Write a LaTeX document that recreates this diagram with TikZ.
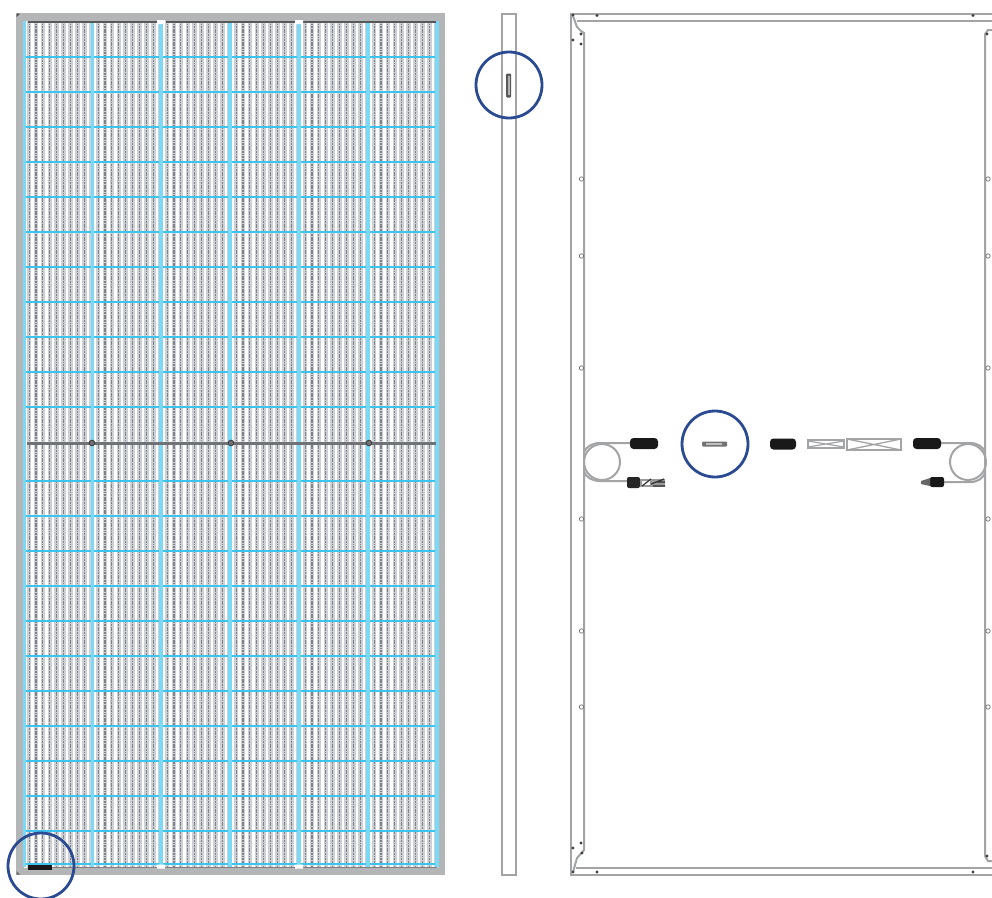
\documentclass[tikz,border=0pt]{standalone}
\definecolor{framegray}{HTML}{B4B5B7}
\definecolor{linegray}{HTML}{A3A4A6}
\definecolor{stripe}{HTML}{CDD0D4}
\definecolor{stripedark}{HTML}{7F8388}
\definecolor{cellblue}{HTML}{3CC3EE}
\definecolor{cellbluel}{HTML}{7CD9F5}
\definecolor{ringblue}{HTML}{2A4B92}
\definecolor{busbar}{HTML}{6F7377}
\tikzset{
  x=1pt,y=-1pt,
  ring/.style={draw=ringblue,line width=2.8pt},
  outline/.style={draw=linegray,line width=2pt},
  cable/.style={draw=linegray,line width=2pt},
  hole/.style={draw=black!55,line width=.7pt,fill=white},
  speck/.style={fill=black!75},
}
\begin{document}
\begin{tikzpicture}
\useasboundingbox (0,0) rectangle (992,897);
\fill[white] (0,0) rectangle (992,897);
% --- front panel ---
\fill[framegray] (16,13) rectangle (445,875);
\fill[black!70] (16.5,13.5) -- (20,13.5) -- (16.5,17) -- cycle;
\fill[black!60] (16.5,874.5) -- (20,874.5) -- (16.5,871) -- cycle;
\fill[white] (24,21) rectangle (437.5,868);
\foreach \i in {0,...,59}{
  \pgfmathsetmacro{\xa}{26.8+\i*6.9}
  \fill[stripe] (\xa,21) rectangle ++(4.6,847);
  \draw[stripedark,line width=1.1pt,dash pattern=on 1.7pt off .9pt] (\xa+2.3,21) -- ++(0,847);
}
\foreach \y in {57,92,127,162,197,232,267,302,337,372,407,481,516,551,586,621,656,691,726,761,796,831,864}
  \draw[cellblue,line width=2.5pt] (24,\y) -- (437,\y);
\foreach \x in {24.5,92.5,161,230,299,368,437}
  \draw[cellbluel,line width=3.2pt] (\x,21) -- (\x,867);
% top and bottom edge details
\draw[black!65,line width=2.4pt] (28,22) -- (157,22) (166,22) -- (296,22) (303,22) -- (436,22);
\fill[white] (157,20) rectangle (165,24) (295,20) rectangle (303,24);
\fill[white] (157,864.5) rectangle (165,868.5) (295,864.5) rectangle (303,868.5);
\fill[black!90] (28,865) rectangle (52,869.5);
\draw[black!50,line width=1.2pt] (52,867.4) -- (157,867.4) (165,867.4) -- (295,867.4) (303,867.4) -- (436,867.4);
% centre bar
\draw[busbar,line width=3.6pt] (27,443.3) -- (436,443.3);
\foreach \x in {92,231,369}
  \draw[black!75,line width=.9pt,fill=busbar] (\x,443) circle (2.8);
\draw[ring] (41,866) circle (33);
% --- side view ---
\draw[outline,fill=white] (501.5,13.5) rectangle (515.5,874.5);
\fill[black!65,rounded corners=1pt] (506,73.5) rectangle (511,97.5);
\fill[black!30] (507.5,76) rectangle (509.5,95);
\draw[ring] (509,85) circle (33);
% --- back panel ---
\draw[outline] (994,13.5) -- (571,13.5) -- (571,874.5) -- (994,874.5);
\draw[outline] (994,20.5) -- (577,20.5);
\draw[outline] (573,16) -- (577,27) -- (581,31) -- (584,33) -- (584,850) -- (577,858) -- (573,872);
\draw[outline] (994,868) -- (576,868);
\draw[outline] (994,30) -- (988,30) -- (985,34) -- (985,856) -- (988,861) -- (994,861);
\foreach \x/\y in {573/15,597/15.5,573/40,581/34,581/44,973/15.5,573/848,597/872,581/843,582/853,987/34,987/856,573/872,973/872}
  \fill[speck] (\x,\y) circle (1.7);
\foreach \y in {179,256,368,519,631,707}{
  \draw[hole] (581.5,\y) circle (2.2);
  \draw[hole] (988,\y) circle (2.2);
}
% left cable
\draw[cable] (602,462) circle (18);
\draw[cable] (632,443) -- (600,443) .. controls (592,443) and (586,447) .. (584,452);
\draw[cable] (632,481) -- (600,481) .. controls (592,481) and (586,477) .. (584,472);
\fill[black!90,rounded corners=3.5pt] (630,438) rectangle (658,449);
\fill[black!85,rounded corners=2pt] (627,477) rectangle (640,488);
\fill[black!40] (640,479) rectangle (665,487);
\fill[white] (642,480.5) rectangle (650,484.5);
\draw[black!80,line width=1.2pt] (642,486) -- (651,479) (651,484) -- (664,479) (653,486) -- (665,486) (657,482) -- (665,482);
% centre circle
\draw[ring] (715,444) circle (33);
\fill[black!55,rounded corners=1pt] (702,441.5) rectangle (727,446.5);
\fill[black!25] (706,443.3) rectangle (722,444.7);
% junction boxes and plug
\fill[black!90,rounded corners=3.5pt] (770,438.5) rectangle (796,449.5);
\draw[linegray,line width=1.6pt] (808,440) rectangle (844,448);
\draw[linegray,line width=1.2pt] (808,441) -- (826,444) -- (844,441) (808,447) -- (826,444) -- (844,447);
\draw[linegray,line width=2pt] (847,438.5) rectangle (901,450);
\draw[linegray,line width=1.3pt] (847,439) -- (874,444.5) -- (901,439) (847,450) -- (874,444.5) -- (901,450);
% right cable
\draw[cable] (968,462) circle (18);
\draw[cable] (940,443) -- (970,443) .. controls (978,443) and (983,447) .. (985,452);
\draw[cable] (944,482) -- (970,482) .. controls (978,482) and (983,478) .. (985,473);
\fill[black!90,rounded corners=3.5pt] (913,438) rectangle (941,449);
\fill[black!90,rounded corners=2pt] (930,477) rectangle (944,487);
\fill[black!60] (921,481) -- (930,478) -- (930,486) -- (921,484) -- cycle;
\end{tikzpicture}
\end{document}
